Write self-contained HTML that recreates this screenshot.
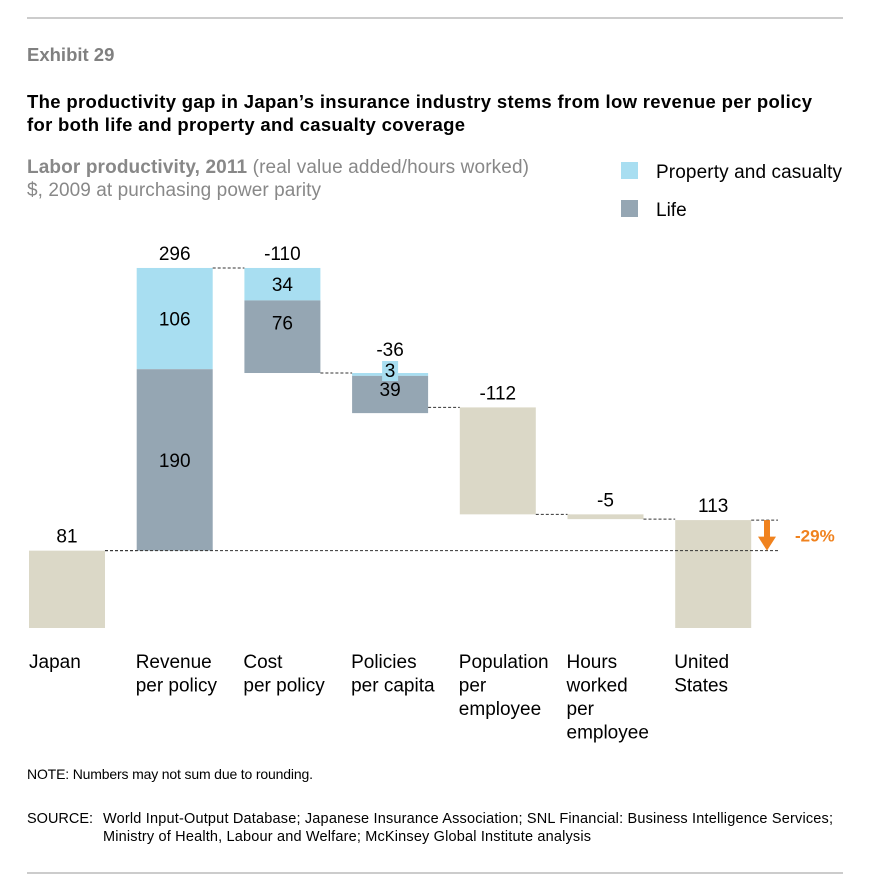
<!DOCTYPE html>
<html><head><meta charset="utf-8"><style>
body{margin:0;background:#fff;width:884px;height:886px;overflow:hidden;font-family:"Liberation Sans",Arial,sans-serif}
svg text{font-family:"Liberation Sans",Arial,sans-serif}
</style></head><body>
<svg id="c" width="884" height="886">
<line x1="27" y1="18" x2="843" y2="18" stroke="#999" stroke-width="1"/>
<line x1="27" y1="873" x2="843" y2="873" stroke="#999" stroke-width="1"/>
<text x="27" y="61" font-size="18.5" font-weight="bold" fill="#808080">Exhibit 29</text>
<text x="27" y="108" font-size="18.5" font-weight="bold" fill="#000" textLength="785">The productivity gap in Japan’s insurance industry stems from low revenue per policy</text>
<text x="27" y="131" font-size="18.5" font-weight="bold" fill="#000" textLength="438">for both life and property and casualty coverage</text>
<text x="27" y="173" font-size="19" fill="#888" textLength="502"><tspan font-weight="bold">Labor productivity, 2011</tspan> (real value added/hours worked)</text>
<text x="27" y="196" font-size="19" fill="#888" textLength="294">$, 2009 at purchasing power parity</text>
<rect x="621" y="162" width="17" height="17" fill="#a8def1"/>
<text x="656" y="178" font-size="19" textLength="186">Property and casualty</text>
<rect x="621" y="200" width="17" height="17" fill="#95a6b3"/>
<text x="656" y="216" font-size="19">Life</text>
<g id="g"></g>
<text x="27" y="779" font-size="14" textLength="286">NOTE: Numbers may not sum due to rounding.</text>
<text x="27" y="823" font-size="14.5">SOURCE:</text>
<text x="103" y="823" font-size="14.5" textLength="730">World Input-Output Database; Japanese Insurance Association; SNL Financial: Business Intelligence Services;</text>
<text x="103" y="841" font-size="14.5" textLength="488">Ministry of Health, Labour and Welfare; McKinsey Global Institute analysis</text>
</svg>
<script>
const categories=[["Japan"],["Revenue","per policy"],["Cost","per policy"],["Policies","per capita"],["Population","per","employee"],["Hours","worked","per","employee"],["United","States"]];
const totals=[81,296,-110,-36,-112,-5,113];
const pcValues=[0,106,-34,-3,0,0,0];
const lifeValues=[0,190,-76,-39,0,0,0];
const isTotal=[true,false,false,false,false,false,true];
const gapLabel="-29%";
const NS="http://www.w3.org/2000/svg";
const g=document.getElementById('g');
const base=628,k=0.955;
const y=v=>base-v*k;
const xb=i=>29+i*107.7;
const bw=76;
const FS=19;
function mk(t,a){const e=document.createElementNS(NS,t);for(const n in a)e.setAttribute(n,a[n]);g.appendChild(e);return e;}
let cum=0;const tops=[];
totals.forEach((t,i)=>{
  const x=xb(i);let start,end;
  if(isTotal[i]){start=0;end=t;cum=t;}else{start=cum;end=cum+t;cum=end;}
  const hi=Math.max(start,end),lo=Math.min(start,end);
  tops.push({hi,lo,end});
  const split=pcValues[i]!==0||lifeValues[i]!==0;
  if(!split){
    const r=mk('rect',{x:x,y:y(hi),width:bw,height:Math.max(1,y(lo)-y(hi)),fill:'#dbd8c7'});
    
    
  }else{
    const pc=Math.abs(pcValues[i]),lf=Math.abs(lifeValues[i]);
    const r1=mk('rect',{x:x,y:y(hi),width:bw,height:pc*k,fill:'#a8def1'});
    
    
    const r2=mk('rect',{x:x,y:y(hi-pc),width:bw,height:lf*k,fill:'#95a6b3'});
    
    
    if(pc*k>14){
      const a=mk('text',{x:x+bw/2,y:y(hi-pc/2)+7,'font-size':FS,'text-anchor':'middle'});a.textContent=pc;
      
      
      const b=mk('text',{x:x+bw/2,y:y(hi-pc)+(lf>100?lf*k/2:22)+7,'font-size':FS,'text-anchor':'middle'});b.textContent=lf;
      
      
    }else{
      const bg=mk('rect',{x:x+bw/2-8,y:y(hi)-12,width:16,height:20,fill:'#a8def1'});
      
      
      const a=mk('text',{x:x+bw/2,y:y(hi)+4,'font-size':FS,'text-anchor':'middle'});a.textContent=pc;
      
      
      const b=mk('text',{x:x+bw/2,y:y(hi)+23,'font-size':FS,'text-anchor':'middle'});b.textContent=lf;
      
      
    }
  }
  const off=(i==3)?17:8;
  const tl=mk('text',{x:x+bw/2,y:y(hi)-off,'font-size':FS,'text-anchor':'middle'});tl.textContent=t;
  
  
  categories[i].forEach((s,j)=>{
    const c=mk('text',{x:x+(i==0?0:-1),y:668+j*23.5,'font-size':FS});c.textContent=s;
    
    
  });
});
for(let i=0;i<totals.length-1;i++){
  const v=tops[i].end;
  const l=mk('line',{x1:xb(i)+bw,x2:xb(i+1),y1:y(v),y2:y(v),stroke:'#333','stroke-dasharray':'3,2','stroke-width':1});
  
  
}
const last=totals.length-1;
const l1=mk('line',{x1:xb(0)+bw,x2:778,y1:y(totals[0]),y2:y(totals[0]),stroke:'#333','stroke-dasharray':'3,2','stroke-width':1});


const l2=mk('line',{x1:xb(last)+bw,x2:778,y1:y(totals[last]),y2:y(totals[last]),stroke:'#333','stroke-dasharray':'3,2','stroke-width':1});


const ax=767,y1=y(totals[last]),y2=y(totals[0]);
const sh=mk('rect',{x:ax-3,y:y1,width:6,height:(y2-y1)-12,fill:'#f0821e'});


const hd=mk('polygon',{points:`${ax-9},${y2-14} ${ax+9},${y2-14} ${ax},${y2}`,fill:'#f0821e'});


const gl=mk('text',{x:795,y:(y1+y2)/2+6,'font-size':17,'font-weight':'bold',fill:'#f0821e'});gl.textContent=gapLabel;


</script>
</body></html>
